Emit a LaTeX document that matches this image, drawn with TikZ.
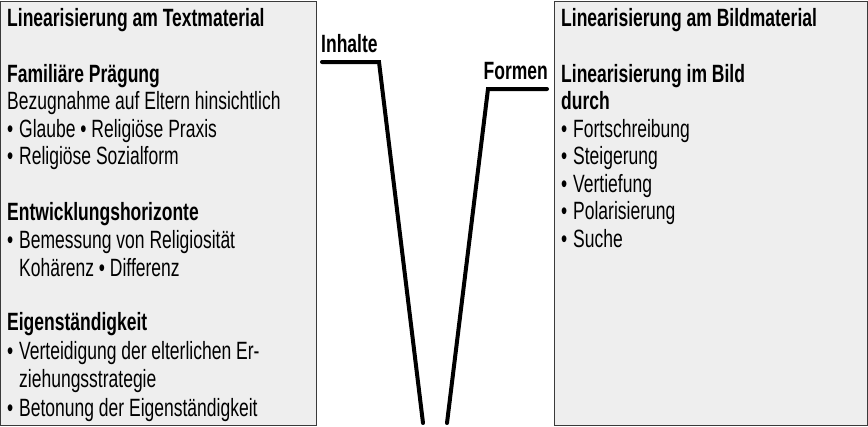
\documentclass[tikz,border=0pt]{standalone}
\usepackage{fontspec}
\setmainfont{Liberation Sans}[FakeStretch=0.7]
\definecolor{boxfill}{HTML}{EEEEEE}
\definecolor{boxline}{HTML}{3A3A3A}
\newcommand\blt{\makebox[14pt][l]{\hspace{2pt}•}}
\tikzset{
  panel/.style={draw=boxline, fill=boxfill, line width=1pt},
  txt/.style={anchor=base west, inner sep=0pt, font=\fontsize{25}{29}\selectfont},
  hd/.style={txt, font=\fontsize{25}{29}\selectfont\bfseries},
  lbl/.style={inner sep=0pt, font=\fontsize{25}{29}\selectfont\bfseries},
  vline/.style={line width=4pt, line cap=round, line join=miter}
}
\begin{document}
\begin{tikzpicture}[x=1pt,y=-1pt]
\useasboundingbox (0,0) rectangle (868,426);
\draw[panel] (0.5,1) rectangle (316,425.5);
\draw[panel] (554,1) rectangle (867.5,425.5);
% left text
\node[hd]  (l1)  at (7,26)  {Linearisierung am Textmaterial};
\node[hd]  (l2)  at (7,82)  {Familiäre Prägung};
\node[txt] (l3)  at (7,109) {Bezugnahme auf Eltern hinsichtlich};
\node[txt] (l4)  at (5,137) {\blt Glaube • Religiöse Praxis};
\node[txt] (l5)  at (5,164) {\blt Religiöse Sozialform};
\node[hd]  (l6)  at (7,220) {Entwicklungshorizonte};
\node[txt] (l7)  at (5,248) {\blt Bemessung von Religiosität};
\node[txt] (l8)  at (19,276) {Kohärenz • Differenz};
\node[hd]  (l9)  at (7,330) {Eigenständigkeit};
\node[txt] (l10) at (5,359) {\blt Verteidigung der elterlichen Er-};
\node[txt] (l11) at (19,387) {ziehungsstrategie};
\node[txt] (l12) at (5,416) {\blt Betonung der Eigenständigkeit};
% right text
\node[hd]  (r1) at (561,26)  {Linearisierung am Bildmaterial};
\node[hd]  (r2) at (561,82)  {Linearisierung im Bild};
\node[hd]  (r3) at (561,109) {durch};
\node[txt] (r4) at (559,137) {\blt Fortschreibung};
\node[txt] (r5) at (559,164) {\blt Steigerung};
\node[txt] (r6) at (559,192) {\blt Vertiefung};
\node[txt] (r7) at (559,219) {\blt Polarisierung};
\node[txt] (r8) at (559,247) {\blt Suche};
% V lines
\node[lbl, anchor=base west] (inh) at (321,52) {Inhalte};
\node[lbl, anchor=base east] (frm) at (548,79) {Formen};
\coordinate (a1) at (322,62);
\coordinate (a2) at (379,62);
\coordinate (a3) at (423,423);
\coordinate (b1) at (447,423);
\coordinate (b2) at (488,89);
\coordinate (b3) at (547,89);
\draw[vline] (a1) -- (a2) -- (a3);
\draw[vline] (b1) -- (b2) -- (b3);
\end{tikzpicture}
\end{document}
